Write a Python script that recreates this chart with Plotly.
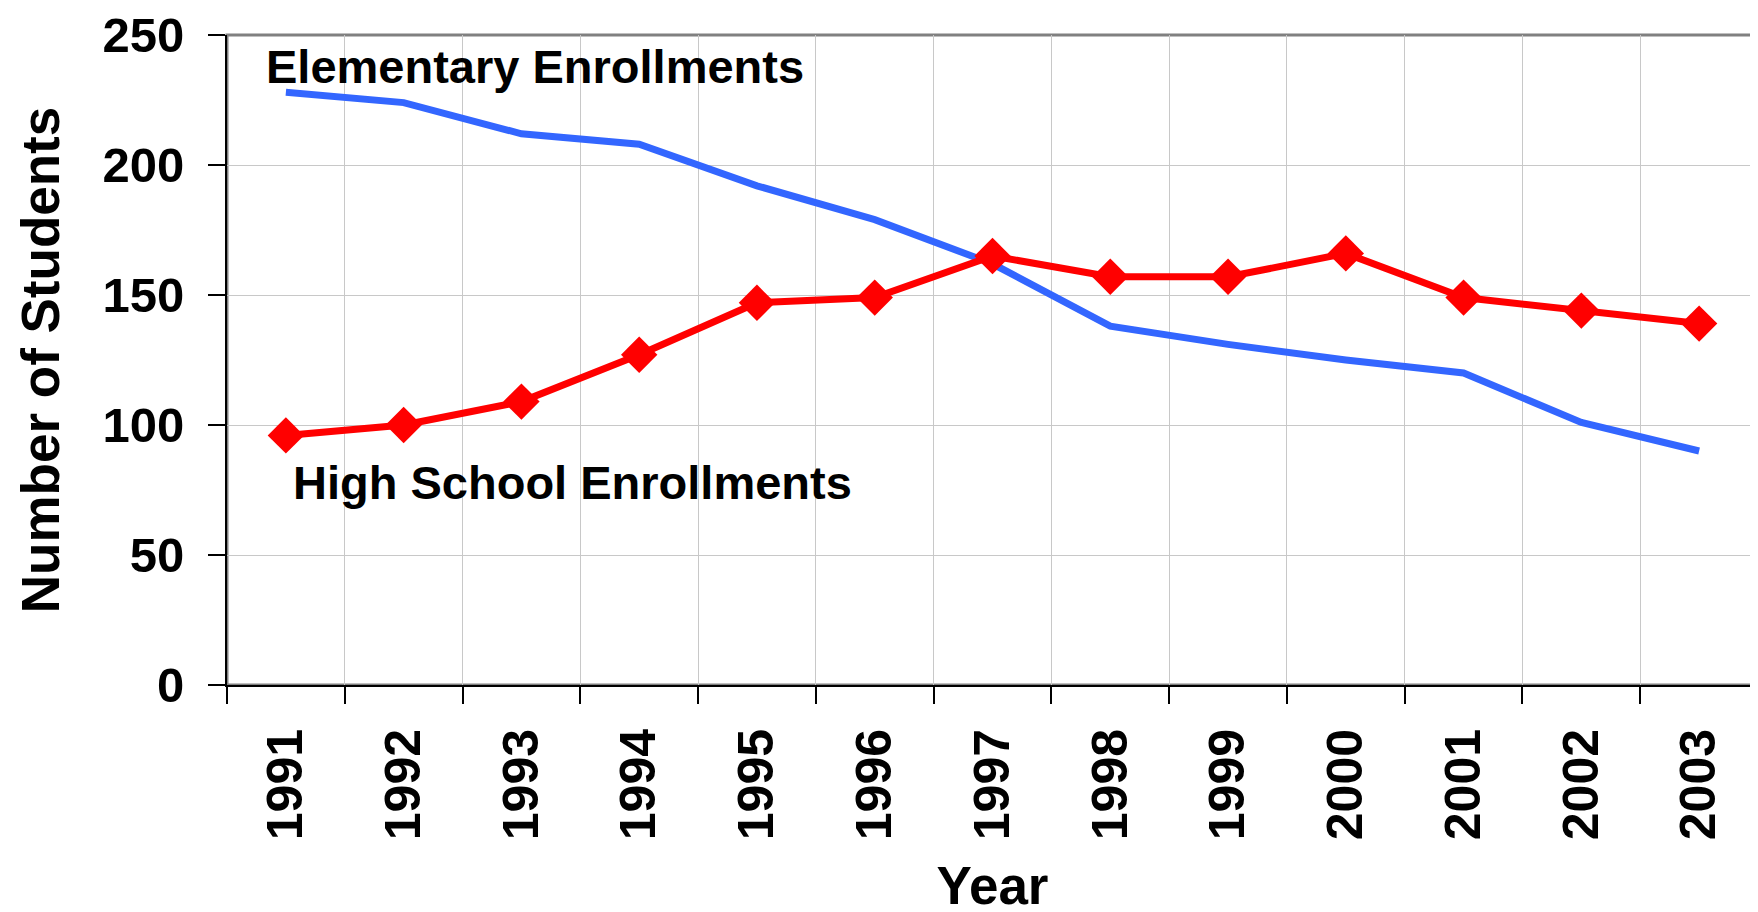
import plotly.graph_objects as go

years = ["1991", "1992", "1993", "1994", "1995", "1996", "1997",
         "1998", "1999", "2000", "2001", "2002", "2003"]
elementary = [228, 224, 212, 208, 192, 179, 162, 138, 131, 125, 120, 101, 90]
high_school = [96, 100, 109, 127, 147, 149, 165, 157, 157, 166, 149, 144, 139]
y_ticks = [0, 50, 100, 150, 200, 250]

FONT = "Arial, Liberation Sans, sans-serif"

fig = go.Figure()
fig.add_trace(go.Scatter(
    x=years, y=elementary, mode="lines", name="Elementary Enrollments",
    line=dict(color="#3366FF", width=7), showlegend=False))
fig.add_trace(go.Scatter(
    x=years, y=high_school, mode="lines+markers", name="High School Enrollments",
    line=dict(color="#FF0000", width=7),
    marker=dict(symbol="diamond", size=28, color="#FF0000"), showlegend=False))

fig.add_annotation(x=-0.19, y=238, xref="x", yref="y", text="Elementary Enrollments",
                   showarrow=False, xanchor="left", yanchor="middle",
                   font=dict(family=FONT, size=47, color="black", weight="bold"))
fig.add_annotation(x=0.04, y=78, xref="x", yref="y", text="High School Enrollments",
                   showarrow=False, xanchor="left", yanchor="middle",
                   font=dict(family=FONT, size=47, color="black", weight="bold"))

fig.add_shape(type="rect", xref="x domain", yref="y domain", x0=0, x1=1, y0=0, y1=1,
              line=dict(color="#808080", width=3), layer="below")

fig.update_xaxes(
    type="category", range=[-0.5, 12.5], tickson="boundaries", automargin=False,
    ticks="outside", ticklen=17, tickwidth=2, tickcolor="black",
    showline=True, linecolor="black", linewidth=2,
    showgrid=True, gridcolor="#C8C8C8", gridwidth=1,
    tickangle=-90, ticklabelstandoff=22,
    tickfont=dict(family=FONT, size=50, color="black", weight="bold"),
    title=dict(text="Year", standoff=28,
               font=dict(family=FONT, size=53, color="black", weight="bold")))
fig.update_yaxes(
    range=[0, 250], tickvals=y_ticks, ticks="outside", ticklen=17, tickwidth=2,
    automargin=False,
    tickcolor="black", showline=True, linecolor="black", linewidth=2,
    showgrid=True, gridcolor="#C8C8C8", gridwidth=1, zeroline=False,
    ticklabelstandoff=14,
    tickfont=dict(family=FONT, size=49, color="black", weight="bold"),
    title=dict(text="Number of Students", standoff=26,
               font=dict(family=FONT, size=53, color="black", weight="bold")))

fig.update_layout(
    width=1758, height=912, autosize=False,
    margin=dict(l=219, r=8, t=27, b=235),
    paper_bgcolor="white", plot_bgcolor="white")

fig.write_html("out.html")
